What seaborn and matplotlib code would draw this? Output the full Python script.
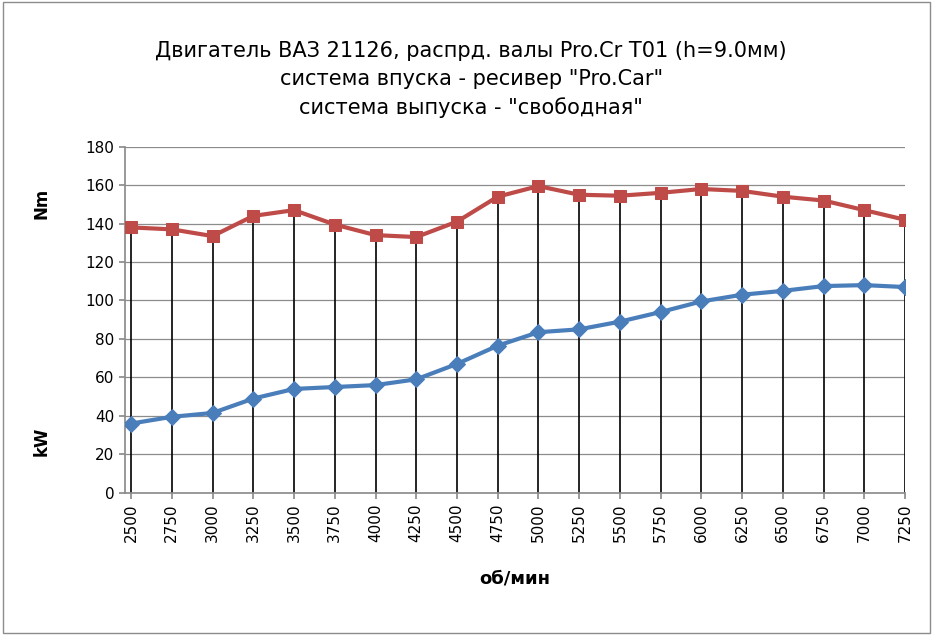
import pandas as pd
import matplotlib.pyplot as plt
import seaborn as sns

rpm = [2500, 2750, 3000, 3250, 3500, 3750, 4000, 4250, 4500, 4750,
       5000, 5250, 5500, 5750, 6000, 6250, 6500, 6750, 7000, 7250]
torque_nm = [138, 137, 133.5, 144, 147, 139.5, 134, 133, 141, 154,
             159.5, 155, 154.5, 156, 158, 157, 154, 152, 147, 142]
power_kw = [36, 39.5, 41.5, 49, 54, 55, 56, 59, 67, 76.5,
            83.5, 85, 89, 94, 99.5, 103, 105, 107.5, 108, 107]

df = pd.DataFrame({"pos": range(len(rpm)), "rpm": rpm, "nm": torque_nm, "kw": power_kw})

sns.set_theme(style="white", font="DejaVu Sans", rc={"text.color": "black",
              "xtick.color": "black", "ytick.color": "black", "axes.labelcolor": "black"})
fig = plt.figure(figsize=(9.33, 6.35), dpi=100)
ax = fig.add_axes([0.134, 0.224, 0.836, 0.545])

for y in range(20, 181, 20):
    ax.axhline(y, color="#8c8c8c", lw=0.9, zorder=0)

ax.vlines(df["pos"], 0, df["nm"], color="black", lw=1.2, zorder=1)

sns.lineplot(data=df, x="pos", y="kw", ax=ax, color="#4A7EBB", lw=3,
             marker="D", markersize=8, markeredgecolor="#4A7EBB", zorder=3)
sns.lineplot(data=df, x="pos", y="nm", ax=ax, color="#BE4B48", lw=3,
             marker="s", markersize=9, markeredgecolor="#BE4B48", zorder=3)

ax.set_xlim(-0.15, 19.0)
ax.set_ylim(0, 180)
ax.set_yticks(range(0, 181, 20))
ax.set_xticks(df["pos"])
ax.set_xticklabels([str(r) for r in rpm], rotation=90, fontsize=11)
ax.tick_params(axis="y", labelsize=11, length=4, left=True, color="#8c8c8c")
ax.tick_params(axis="x", length=4, bottom=True, color="#8c8c8c")
for s in ["top", "right"]:
    ax.spines[s].set_visible(False)
ax.spines["left"].set_color("#8c8c8c")
ax.spines["bottom"].set_color("#8c8c8c")
ax.set_xlabel("об/мин", fontsize=13, fontweight="bold", labelpad=20)
ax.set_ylabel("")

fig.text(0.045, 0.68, "Nm", rotation=90, fontsize=12, fontweight="bold", ha="center", va="center")
fig.text(0.045, 0.305, "kW", rotation=90, fontsize=12, fontweight="bold", ha="center", va="center")
fig.text(0.505, 0.875, 'Двигатель ВАЗ 21126, распрд. валы Pro.Cr T01 (h=9.0мм)\n'
         'система впуска - ресивер "Pro.Car"\nсистема выпуска - "свободная"',
         ha="center", va="center", fontsize=15, linespacing=1.5)

fig.patches.append(plt.Rectangle((0.003, 0.003), 0.994, 0.994, transform=fig.transFigure,
                                 fill=False, edgecolor="#8c8c8c", lw=1))

fig.savefig("out.png", dpi=100)
